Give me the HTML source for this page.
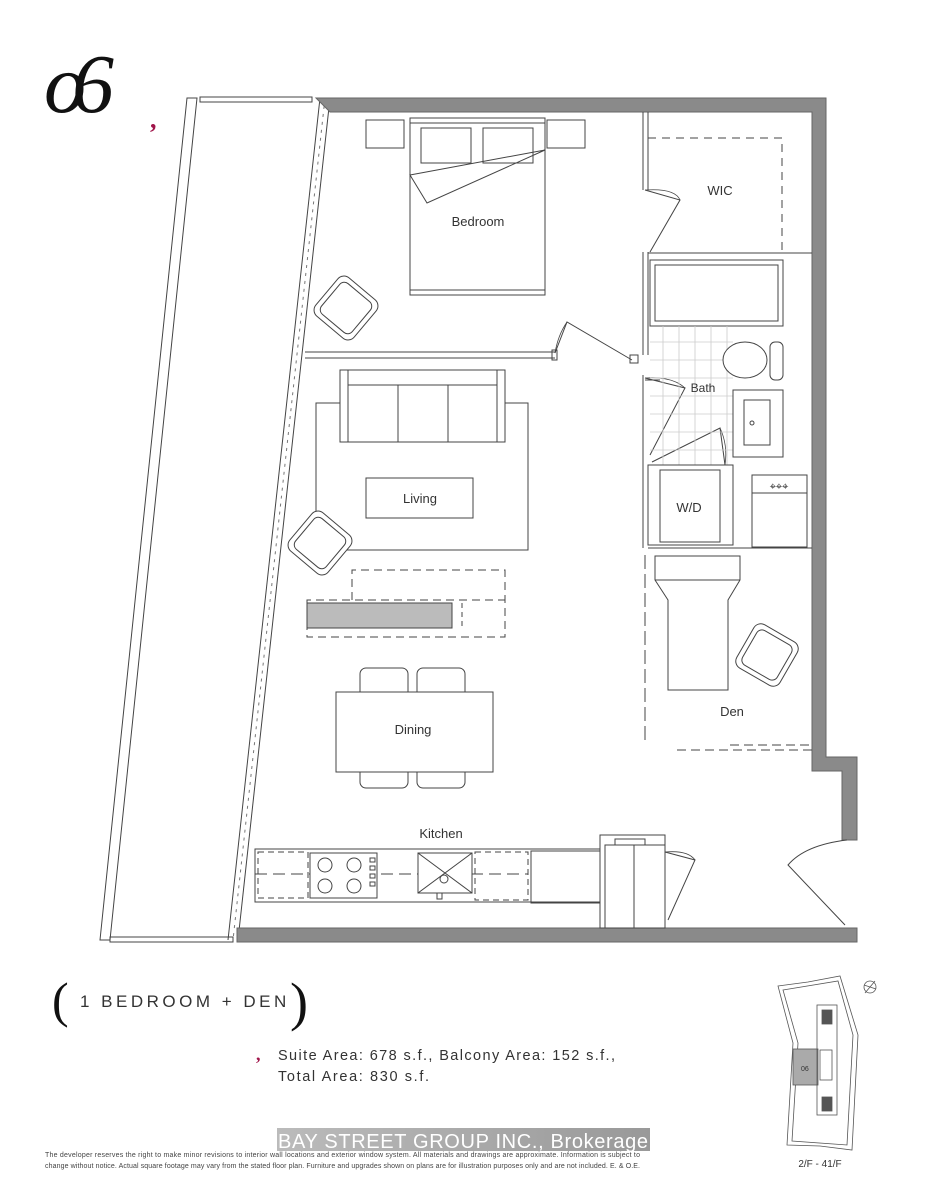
<!DOCTYPE html>
<html><head><meta charset="utf-8"><style>
html,body{margin:0;padding:0;background:#fff;}
svg{display:block;}
text{font-family:"Liberation Sans",sans-serif;fill:#333;}
</style></head><body>
<svg width="927" height="1200" viewBox="0 0 927 1200" xmlns="http://www.w3.org/2000/svg">
<g fill="none" stroke="#444" stroke-width="1">
<!-- logo -->
<text x="44" y="112" style="font-family:'Liberation Serif',serif;font-size:84px;fill:#111;stroke:none;font-style:italic" letter-spacing="-14">o6</text>
<text x="150" y="128" style="font-family:'Liberation Serif',serif;font-size:26px;fill:#a0154a;stroke:none;font-weight:bold">,</text>
<!-- balcony -->
<polygon points="187,98 197,98 110,940 100,940"/>
<rect x="200" y="97" width="112" height="5"/>
<rect x="110" y="937" width="123" height="5"/>
<!-- window wall -->
<line x1="320" y1="98" x2="228" y2="940"/>
<line x1="330" y1="98" x2="238" y2="940"/>
<line x1="325" y1="98" x2="233" y2="940" stroke-dasharray="3,5" stroke="#777"/>
<!-- outer walls -->
<path d="M316,98 H826 V757 H857 V840 H842 V771 H812 V112 H330 Z" fill="#8a8a8a" stroke="#666"/>
<path d="M237,928 H857 V942 H237 Z" fill="#8a8a8a" stroke="#666"/>
<!-- bedroom wall -->
<path d="M305,352 H555 M305,358 H555"/>
<rect x="552" y="350" width="5" height="10"/>
<path d="M555,353 L567,322 L632,360"/>
<path d="M555,353 Q558,335 567,322" stroke-width="0.8"/>
<!-- bath/wic walls -->
<path d="M643,112 V190 M648,112 V190"/>
<path d="M645,190 L680,200 L650,252" />
<path d="M645,190 Q675,188 680,200" stroke-width="0.8"/>
<path d="M643,252 V355 M648,252 V355 M648,253 H812"/>
<rect x="630" y="355" width="8" height="8"/>
<path d="M643,375 V548 M645,380 H660"/>
<path d="M645,378 L685,388 L650,455"/>
<path d="M645,378 Q672,376 685,388" stroke-width="0.8"/>
<path d="M652,462 L720,428 L725,465"/>
<path d="M720,428 Q728,445 725,465" stroke-width="0.8"/>
<!-- WIC -->
<path d="M648,138 H782 V253" stroke-dasharray="8,6"/>
<text x="720" y="195" font-size="13" text-anchor="middle" stroke="none">WIC</text>
<!-- tub -->
<rect x="650" y="260" width="133" height="66"/>
<rect x="655" y="265" width="123" height="56"/>
<!-- tiles -->
<g stroke="#ccc" stroke-width="0.8">
<path d="M650,342 H733 M650,360 H733 M650,378 H733 M650,396 H733 M650,414 H733 M650,432 H733 M650,450 H733"/>
<path d="M663,326 V465 M679,326 V465 M695,326 V465 M711,326 V465 M727,326 V465"/>
</g>
<!-- toilet -->
<ellipse cx="745" cy="360" rx="22" ry="18" fill="#fff"/>
<rect x="770" y="342" width="13" height="38" rx="5" fill="#fff"/>
<text x="703" y="392" font-size="12" text-anchor="middle" stroke="none">Bath</text>
<!-- vanity -->
<rect x="733" y="390" width="50" height="67" fill="#fff"/>
<rect x="744" y="400" width="26" height="45"/>
<circle cx="752" cy="423" r="2"/>
<!-- W/D -->
<rect x="648" y="465" width="85" height="80"/>
<rect x="660" y="470" width="60" height="72"/>
<text x="689" y="512" font-size="13" text-anchor="middle" stroke="none">W/D</text>
<!-- stove -->
<rect x="752" y="475" width="55" height="72"/>
<line x1="752" y1="493" x2="807" y2="493"/>
<text x="779" y="490" font-size="11" text-anchor="middle" stroke="none">⌖⌖⌖</text>
<path d="M648,548 H812"/>
<!-- den -->
<path d="M645,555 V740" stroke-dasharray="14,5"/>
<path d="M655,556 H740 V580 L728,600 V690 H668 V600 L655,580 Z"/>
<line x1="655" y1="580" x2="740" y2="580"/>
<g transform="rotate(30 767 655)"><rect x="742" y="630" width="50" height="50" rx="8"/><rect x="747" y="635" width="40" height="40" rx="6"/></g>
<text x="732" y="716" font-size="13" text-anchor="middle" stroke="none">Den</text>
<path d="M677,750 H812 M730,745 H812" stroke-dasharray="9,5"/>
<!-- bedroom -->
<rect x="366" y="120" width="38" height="28"/>
<rect x="547" y="120" width="38" height="28"/>
<rect x="410" y="118" width="135" height="177"/>
<path d="M410,123 H545 M410,290 H545"/>
<rect x="421" y="128" width="50" height="35"/>
<rect x="483" y="128" width="50" height="35"/>
<path d="M410,175 L545,150 L427,203 Z"/>
<text x="478" y="226" font-size="13" text-anchor="middle" stroke="none">Bedroom</text>
<g transform="rotate(40 346 308)"><rect x="321" y="283" width="50" height="50" rx="8"/><rect x="326" y="288" width="40" height="40" rx="6"/></g>
<!-- living -->
<rect x="316" y="403" width="212" height="147" fill="#fff"/>
<rect x="340" y="370" width="165" height="72" fill="#fff"/>
<path d="M348,370 V442 M497,370 V442 M348,385 H497 M398,385 V442 M448,385 V442"/>
<rect x="366" y="478" width="107" height="40"/>
<text x="420" y="503" font-size="13" text-anchor="middle" stroke="none">Living</text>
<g transform="rotate(40 320 543)"><rect x="295" y="518" width="50" height="50" rx="8" fill="#fff"/><rect x="300" y="523" width="40" height="40" rx="6"/></g>
<!-- tv -->
<path d="M352,600 V570 H505 V637 H307 V600 H505" stroke-dasharray="8,5"/>
<rect x="307" y="603" width="145" height="25" fill="#bbb"/>
<path d="M462,603 V630" stroke-dasharray="5,4"/>
<!-- dining -->
<rect x="360" y="668" width="48" height="30" rx="6"/>
<rect x="417" y="668" width="48" height="30" rx="6"/>
<rect x="360" y="766" width="48" height="22" rx="6"/>
<rect x="417" y="766" width="48" height="22" rx="6"/>
<rect x="336" y="692" width="157" height="80" fill="#fff"/>
<text x="413" y="734" font-size="13" text-anchor="middle" stroke="none">Dining</text>
<!-- kitchen -->
<text x="441" y="838" font-size="13" text-anchor="middle" stroke="none">Kitchen</text>
<rect x="255" y="849" width="345" height="53"/>
<line x1="255" y1="874" x2="528" y2="874" stroke-dasharray="12,6"/>
<rect x="258" y="852" width="50" height="46" stroke-dasharray="6,4"/>
<rect x="475" y="852" width="53" height="48" stroke-dasharray="6,4"/>
<rect x="310" y="853" width="67" height="45" fill="#fff"/>
<circle cx="325" cy="865" r="7"/><circle cx="354" cy="865" r="7"/><circle cx="325" cy="886" r="7"/><circle cx="354" cy="886" r="7"/>
<path d="M370,858 h5 v4 h-5z M370,866 h5 v4 h-5z M370,874 h5 v4 h-5z M370,882 h5 v4 h-5z"/>
<rect x="418" y="853" width="54" height="40" fill="#fff"/>
<path d="M418,853 L472,893 M472,853 L418,893"/>
<circle cx="444" cy="879" r="4"/>
<rect x="437" y="893" width="5" height="6"/>
<rect x="531" y="851" width="69" height="52"/>
<rect x="600" y="835" width="65" height="93"/>
<rect x="605" y="845" width="60" height="83"/>
<line x1="634" y1="845" x2="634" y2="928"/>
<rect x="615" y="839" width="30" height="6"/>
<path d="M665,852 L695,860 L668,920"/>
<path d="M665,852 Q688,850 695,860" stroke-width="0.8"/>
<!-- entry door -->
<path d="M847,840 Q805,845 788,865 L845,925"/>
</g>
<!-- bottom text -->
<text x="52" y="1017" font-size="50" style="font-family:'Liberation Serif',serif;fill:#111">(</text>
<text x="80" y="1007" font-size="17" letter-spacing="3.5" fill="#333">1 BEDROOM + DEN</text>
<text x="290" y="1020" font-size="54" style="font-family:'Liberation Serif',serif;fill:#111">)</text>
<text x="256" y="1060" font-size="18" style="font-family:'Liberation Serif',serif;font-weight:bold;fill:#a0154a">,</text>
<text x="278" y="1060" font-size="14.5" letter-spacing="1" textLength="338">Suite Area: 678 s.f., Balcony Area: 152 s.f.,</text>
<text x="278" y="1081" font-size="14.5" letter-spacing="1" textLength="152">Total Area: 830 s.f.</text>
<defs><linearGradient id="g" x1="0" x2="1"><stop offset="0" stop-color="#bbb"/><stop offset="1" stop-color="#999"/></linearGradient></defs>
<rect x="277" y="1128" width="373" height="23" fill="url(#g)"/>
<text x="278" y="1148" font-size="20" style="fill:#fff" textLength="370">BAY STREET GROUP INC., Brokerage</text>
<text x="45" y="1157" font-size="7" style="fill:#444" textLength="595">The developer reserves the right to make minor revisions to interior wall locations and exterior window system. All materials and drawings are approximate. Information is subject to</text>
<text x="45" y="1168" font-size="7" style="fill:#444" textLength="595">change without notice. Actual square footage may vary from the stated floor plan. Furniture and upgrades shown on plans are for illustration purposes only and are not included. E. &amp; O.E.</text>
<!-- key plan -->
<g fill="none" stroke="#555" stroke-width="0.8">
<path d="M778,986 L808,982 L840,976 L858,1035 L852,1150 L820,1146 L787,1145 L793,1043 Z"/>
<path d="M783,990 L838,981 L853,1035 L847,1145 L792,1141 L798,1043 Z"/>
<rect x="793" y="1049" width="25" height="36" fill="#aaa"/>
<rect x="817" y="1005" width="20" height="110"/>
<rect x="822" y="1010" width="10" height="14" fill="#555"/>
<rect x="822" y="1097" width="10" height="14" fill="#555"/>
<rect x="820" y="1050" width="12" height="30"/>
<circle cx="870" cy="987" r="6"/>
<path d="M865,993 L875,981 M864,985 L876,989"/>
</g>
<text x="801" y="1071" font-size="7" fill="#333">06</text>
<text x="820" y="1167" font-size="10" text-anchor="middle" fill="#333">2/F - 41/F</text>
</svg>
</body></html>
